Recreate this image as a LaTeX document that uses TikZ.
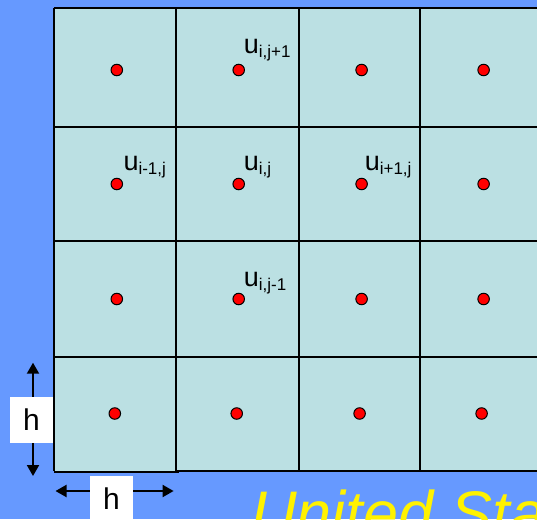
\documentclass[tikz,border=0pt]{standalone}
\usepackage{fontspec}
\setmainfont{Liberation Sans}
\usetikzlibrary{arrows.meta}
\definecolor{slidebg}{RGB}{102,153,255}
\definecolor{cellfill}{RGB}{187,224,227}

\newcommand{\ulab}[1]{{\fontsize{27}{27}\selectfont u}\raisebox{-4pt}{\fontsize{17}{17}\selectfont #1}}

\begin{document}
\begin{tikzpicture}[x=1pt, y=-1pt,
    gridline/.style={line width=1.6pt, black},
    pt/.style={circle, fill=red, draw=black, line width=1pt, minimum size=11.5pt, inner sep=0pt},
    ulabel/.style={anchor=base west, inner sep=0pt},
    dimarrow/.style={line width=2pt, {Triangle[length=11pt,width=12pt]}-{Triangle[length=11pt,width=12pt]}},
    hbox/.style={fill=white, inner sep=0pt, minimum width=43pt, minimum height=46pt, font=\fontsize{30}{30}\selectfont}]

    % background
    \fill[slidebg] (0,0) rectangle (537,519);
    \clip (0,0) rectangle (537,519);

    % cells
    \fill[cellfill] (53.8,8.3) rectangle (545,470.7);
    \fill[cellfill] (53.8,8.3) rectangle (179,472);

    % grid lines
    \foreach \x in {53.8,175.7,299,420}
        \draw[gridline] (\x,8.3) -- (\x,471);
    \foreach \y in {8.3,127,241,357}
        \draw[gridline] (53.8,\y) -- (545,\y);
    \draw[gridline] (53.8,472) -- (179,472);
    \draw[gridline] (175.7,470.7) -- (545,470.7);

    % grid points
    \foreach \r/\y/\dx in {1/70/0, 2/184/0, 3/299/0, 4/413.5/-2}
        \foreach \c/\x in {1/116.8, 2/238.7, 3/361.6, 4/483.6}
            \node[pt] (p-\c-\r) at (\x+\dx,\y) {};

    % stencil labels
    \node[ulabel] (ujp) at ([shift={(5,-17)}]p-2-1) {\ulab{i,j+1}};
    \node[ulabel] (uim) at ([shift={(6.5,-14)}]p-1-2) {\ulab{i-1,j}};
    \node[ulabel] (uij) at ([shift={(5,-14)}]p-2-2) {\ulab{i,j}};
    \node[ulabel] (uip) at ([shift={(3,-14)}]p-3-2) {\ulab{i+1,j}};
    \node[ulabel] (ujm) at ([shift={(5,-13)}]p-2-3) {\ulab{i,j-1}};

    % cell size
    \coordinate (hl) at (55.5,491);
    \coordinate (hr) at (173.6,491);
    \draw[dimarrow] (hl) -- (hr);
    \node[hbox] (hh) at (111.5,499) {h};

    \coordinate (vt) at (33,362.7);
    \coordinate (vb) at (33,476);
    \draw[dimarrow] (vt) -- (vb);
    \node[hbox] (hv) at (31.5,420) {h};

    % footer text
    \node[anchor=base west, inner sep=0pt, text=yellow, font=\fontsize{63}{63}\selectfont\itshape] (title) at (251,535) {United States};

\end{tikzpicture}
\end{document}
